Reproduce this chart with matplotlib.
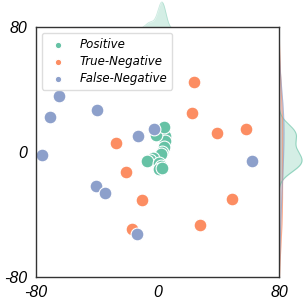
import numpy as np
import matplotlib
matplotlib.use("Agg")
import matplotlib.pyplot as plt

categories = ["Positive", "True-Negative", "False-Negative"]
colors = ["#66c2a5", "#fc8d62", "#8da0cb"]

pos_x = [2, 4, 5, 5, 4, 3, 2, -1, -3, -5, -7, 1, 2, 1, 3, 4]
pos_y = [14, 12, 10, 7, 3, 0, -1, 11, -4, -5, -6, -7, -9, -11, -10, 16]

tn_x = [24, 22.5, 39, 58, -27, -21, -10, 49, 28, -17]
tn_y = [45, 25, 12, 15, 6, -13, -31, -30, -47, -49]

fn_x = [-65, -71, -40, -12.6, -2.3, -76, 62, -40.5, -34.3, -13.7]
fn_y = [36, 22.6, 27, 10.4, 14.5, -2, -6, -21.5, -26, -52.7]

xs = [pos_x, tn_x, fn_x]
ys = [pos_y, tn_y, fn_y]

ticks = [-80, 0, 80]
lim = (-80, 80)

W, H = 305, 300
fig = plt.figure(figsize=(W / 100, H / 100), dpi=100)

L, R, T, B = 36, 279, 27, 277
ax = fig.add_axes([L / W, 1 - B / H, (R - L) / W, (B - T) / H], zorder=3)
ax_top = fig.add_axes([L / W, 1 - T / H, (R - L) / W, T / H], zorder=1)
ax_right = fig.add_axes([R / W, 1 - B / H, (W - R) / W, (B - T) / H], zorder=1)

def kde(data, grid):
    d = np.asarray(data, float)
    bw = d.std(ddof=1) * len(d) ** (-1 / 5)
    z = (grid[:, None] - d[None, :]) / bw
    return np.exp(-0.5 * z ** 2).sum(1) / (len(d) * bw * np.sqrt(2 * np.pi))

N = sum(len(a) for a in xs)
grid = np.linspace(-80, 80, 800)
dens_x, dens_y = [], []
for xv, yv in zip(xs, ys):
    w = len(xv) / N
    dens_x.append(kde(xv, grid) * w)
    dens_y.append(kde(yv, grid) * w)

for dx, dy, c in zip(dens_x, dens_y, colors):
    ax_top.fill_between(grid, 0, dx, color=c, alpha=0.28, lw=0)
    ax_top.plot(grid, dx, color=c, lw=0.6, alpha=0.35)
    ax_right.fill_betweenx(grid, 0, dy, color=c, alpha=0.28, lw=0)
    ax_right.plot(dy, grid, color=c, lw=0.8, alpha=0.6)

top_peak = max(d.max() for d in dens_x)
top_low = max(d.max() for d in dens_x[1:]) * 1.1
ax_top.set_xlim(lim)
ax_top.set_ylim(top_low, top_low + (top_peak - top_low) * 27 / 25)
ax_top.axis("off")

right_peak = max(d.max() for d in dens_y)
ax_right.set_ylim(lim)
ax_right.set_xlim(0, right_peak * 26 / 23)
ax_right.axis("off")

for xv, yv, c, lab in zip(xs, ys, colors, categories):
    ax.scatter(xv, yv, s=85, color=c, edgecolor="white", linewidth=0.8, label=lab)

ax.set_facecolor("white")
ax.set_xlim(lim)
ax.set_ylim(lim)
ax.set_xticks(ticks)
ax.set_yticks(ticks)
tick_font = {"family": "Liberation Sans", "size": 11.5, "style": "italic"}
ax.set_xticklabels([str(t) for t in ticks], fontdict=tick_font)
ax.set_yticklabels([str(t) for t in ticks], fontdict=tick_font)
ax.tick_params(length=0, pad=6)
for s in ax.spines.values():
    s.set_color("#333333")
    s.set_linewidth(1.0)

leg = ax.legend(loc="upper left", bbox_to_anchor=(0.0, 1.0), prop={"style": "italic", "size": 8.5},
                markerscale=0.5, handletextpad=0.8, labelspacing=0.35, borderpad=0.4,
                frameon=True, fancybox=True, edgecolor="#dddddd", framealpha=1)

fig.savefig("out.png", dpi=100)
